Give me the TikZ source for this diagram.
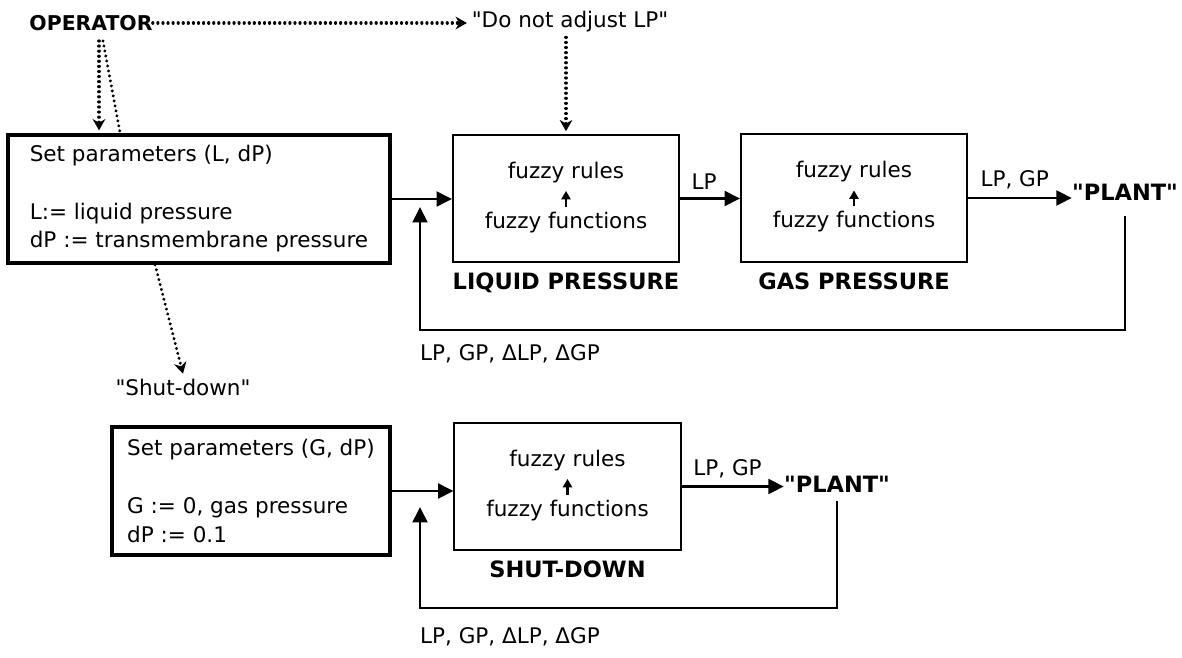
\documentclass[tikz,border=0pt]{standalone}
\usepackage{fontspec}
\setmainfont{DejaVu Sans}[Ligatures=TeXOff]
\usetikzlibrary{arrows.meta,calc,positioning}
\newcommand{\stdfont}{\fontsize{15.3pt}{20.4pt}\selectfont}
\newcommand{\hdfont}{\fontsize{16pt}{19pt}\selectfont\bfseries}
\newcommand{\opfont}{\fontsize{14.5pt}{17pt}\selectfont\bfseries}

\begin{document}
\begin{tikzpicture}[x=0.025cm, y=-0.025cm,
    setbox/.style={draw, line width=2.6pt, minimum height=3.2cm,
                   align=left, font=\stdfont},
    fuzzbox/.style={draw, line width=1.4pt, minimum width=5.65cm,
                    minimum height=3.175cm},
    fz/.style={inner sep=0pt, font=\stdfont},
    lbl/.style={font=\stdfont},
    ttl/.style={inner sep=0pt, font=\hdfont},
    flow/.style={-{Triangle[length=11pt,width=10.5pt]}, line width=2pt},
    small/.style={-{Triangle[length=6pt,width=6.5pt]}, line width=1.5pt},
    dotline/.style={line width=2.3pt, dash pattern=on 0.01pt off 3.6pt,
                    line cap=round},
    dotarr/.style={dotline, -{Stealth[length=8pt,width=9pt]}}]
  \useasboundingbox (0,0) rectangle (1182,657);

  % Operator and remarks
  \node[ttl, font=\opfont] (op) at (91,23) {OPERATOR};
  \node[lbl] (dna) at (570,22) {"Do not adjust LP"};
  \node[lbl] (shut) at (183,387) {"Shut-down"};

  % Top row
  \node[setbox, minimum width=9.55cm] (set1) at (199,199)
       {Set parameters (L, dP)\\[20.4pt]L:= liquid pressure\\dP := transmembrane pressure};
  \node[fuzzbox] (lp) at (566,198.5) {};
  \node[fz] (lpr) at ($(lp)+(0,-26)$) {fuzzy rules};
  \node[fz] (lpf) at ($(lp)+(0,24)$) {fuzzy functions};
  \node[ttl, below=7pt of lp] (lpt) {LIQUID PRESSURE};
  \node[fuzzbox] (gp) at (854,198) {};
  \node[fz] (gpr) at ($(gp)+(0,-26)$) {fuzzy rules};
  \node[fz] (gpf) at ($(gp)+(0,24)$) {fuzzy functions};
  \node[ttl, below=7pt of gp] (gpt) {GAS PRESSURE};
  \node[ttl] (plant1) at (1125,192) {"PLANT"};
  \coordinate (fb1) at (420,330);
  \coordinate (fb1tip) at (420,207);
  \node[lbl] (fbl1) at (510,354) {LP, GP, ΔLP, ΔGP};

  % Bottom row
  \node[setbox, minimum width=6.95cm] (set2) at (251,491)
       {Set parameters (G, dP)\\[20.4pt]G := 0, gas pressure\\dP := 0.1};
  \node[fuzzbox] (sd) at (567.5,486.5) {};
  \node[fz] (sdr) at ($(sd)+(0,-26)$) {fuzzy rules};
  \node[fz] (sdf) at ($(sd)+(0,24)$) {fuzzy functions};
  \node[ttl, below=7pt of sd] (sdt) {SHUT-DOWN};
  \node[ttl] (plant2) at (837,484) {"PLANT"};
  \coordinate (fb2) at (420,608);
  \coordinate (fb2tip) at (420,507);
  \node[lbl] (fbl2) at (510,637) {LP, GP, ΔLP, ΔGP};

  % Dotted connectors
  \coordinate (opd) at ($(op.south)+(8,10)$);
  \coordinate (ops) at ($(op.south)+(12,10)$);
  \coordinate (s1b) at ($(set1.south west)+(149,0)$);
  \draw[dotarr] (op.east) -- (op.east -| dna.west);
  \draw[dotarr, shorten >=2pt] (dna.south -| lp.north) -- (lp.north);
  \draw[dotarr, shorten >=2pt] (opd) -- (opd |- set1.north);
  \draw[dotline] (ops) -- ($(set1.north west)+(114,0)$);
  \draw[dotarr] (s1b) -- (shut.north);

  % Arrows
  \foreach \a in {lp, gp, sd}
    \draw[small, shorten <=3.5pt, shorten >=5.5pt] (\a f.north) -- (\a r.south);
  \draw[flow] (set1.east) -- (set1.east -| lp.west);
  \draw[flow] (lp.east) -- node[lbl, above, pos=0.4, yshift=2pt] {LP} (lp.east -| gp.west);
  \draw[flow] (gp.east) -- node[lbl, above, pos=0.45, yshift=2pt] {LP, GP} (gp.east -| plant1.west);
  \draw[flow, shorten <=11pt] (plant1.south) |- (fb1) -- (fb1tip);
  \draw[flow] (set2.east) -- (set2.east -| sd.west);
  \draw[flow] (sd.east) -- node[lbl, above, pos=0.45, yshift=2pt] {LP, GP} (sd.east -| plant2.west);
  \draw[flow, shorten <=6pt] (plant2.south) |- (fb2) -- (fb2tip);
\end{tikzpicture}
\end{document}
